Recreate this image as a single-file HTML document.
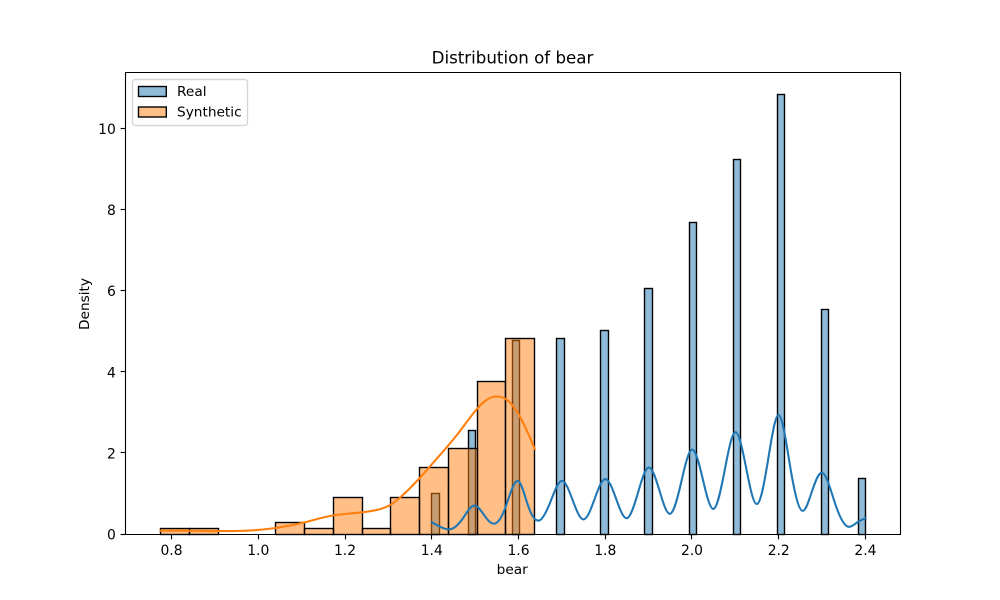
<!DOCTYPE html>
<html lang="en">
<head>
<meta charset="utf-8">
<title>Distribution of bear</title>
<style>
html,body{margin:0;padding:0;background:#fff;}
svg{display:block;}
text{font-family:"DejaVu Sans","Liberation Sans",sans-serif;fill:#000;}
</style>
</head>
<body>
<svg id="chart" xmlns="http://www.w3.org/2000/svg" width="1000" height="600" viewBox="0 0 1000 600">
  <rect x="0" y="0" width="1000" height="600" fill="#ffffff"/>
  <g id="real-bars"></g>
  <g id="synthetic-bars"></g>
  <g id="lines"></g>
  <g id="axes"></g>
  <text x="512.5" y="63.7" font-size="16.67" text-anchor="middle">Distribution of bear</text>
  <text x="512.2" y="574" font-size="13.7" text-anchor="middle">bear</text>
  <text transform="translate(89,304) rotate(-90)" font-size="13.7" text-anchor="middle">Density</text>
  <g>
    <rect x="132.5" y="79.5" width="115" height="46" rx="2.8" ry="2.8" fill="#ffffff" fill-opacity="0.8" stroke="#cccccc" stroke-opacity="0.8" stroke-width="1.39"/>
    <rect x="138.5" y="86.5" width="27.8" height="10" fill="#1f77b4" fill-opacity="0.5" stroke="#000000" stroke-width="1.39"/>
    <text x="177" y="96" font-size="13.7">Real</text>
    <rect x="138.5" y="107" width="27.8" height="10" fill="#ff7f0e" fill-opacity="0.5" stroke="#000000" stroke-width="1.39"/>
    <text x="177" y="116.5" font-size="13.7">Synthetic</text>
  </g>
</svg>
<script>
// Chart data
const xTickLabels = ["0.8","1.0","1.2","1.4","1.6","1.8","2.0","2.2","2.4"];
const yTickLabels = ["0","2","4","6","8","10"];

const realValues = [1.4,1.5,1.6,1.7,1.8,1.9,2.0,2.1,2.2,2.3,2.4];
const realDensity = [1.0,2.56,4.78,4.83,5.02,6.05,7.69,9.24,10.83,5.54,1.38];
const realBinStart = 1.4;
const realBinEnd = 2.4;
const realBinCount = 59;

const syntheticDensity = [0.145,0.145,0,0,0.295,0.145,0.905,0.145,0.905,1.65,2.11,3.76,4.82];
const syntheticBinStart = 0.7745;
const syntheticBinEnd = 1.6375;

const realKdeX = [1.4,1.419,1.442,1.469,1.5,1.523,1.544,1.569,1.6,1.623,1.65,1.675,1.7,1.725,1.75,1.775,1.8,1.825,1.85,1.875,1.9,1.925,1.95,1.975,2.0,2.025,2.05,2.075,2.1,2.125,2.15,2.175,2.2,2.225,2.255,2.275,2.3,2.33,2.36,2.38,2.4];
const realKdeY = [0.29,0.18,0.115,0.345,0.70,0.43,0.255,0.63,1.30,0.67,0.345,0.83,1.31,0.83,0.36,0.85,1.355,0.87,0.39,1.0,1.64,1.07,0.50,1.27,2.08,1.35,0.62,1.55,2.51,1.62,0.74,1.8,2.93,1.75,0.57,1.0,1.51,0.75,0.18,0.28,0.39];

const synKdeX = [0.7745,0.85,0.95,1.04,1.104,1.173,1.24,1.265,1.304,1.327,1.373,1.419,1.458,1.504,1.527,1.55,1.573,1.603,1.6375];
const synKdeY = [0.08,0.08,0.074,0.148,0.28,0.46,0.535,0.575,0.715,0.90,1.39,1.95,2.44,3.08,3.31,3.39,3.31,2.90,2.10];

// Axis functions
const plotLeft = 125, plotRight = 900, plotTop = 72, plotBottom = 534;
const xMin = 0.6927, xMax = 2.4796, yMin = 0, yMax = 11.39;
function xScale(v){ return plotLeft + (v - xMin) / (xMax - xMin) * (plotRight - plotLeft); }
function yScale(v){ return plotBottom - (v - yMin) / (yMax - yMin) * (plotBottom - plotTop); }
function snap(p){ return Math.floor(p) + 0.5; }

const NS = "http://www.w3.org/2000/svg";
function make(tag, parent, attrs){
  const el = document.createElementNS(NS, tag);
  for (const k in attrs) el.setAttribute(k, attrs[k]);
  parent.appendChild(el);
  return el;
}

function barAttrs(lo, hi, density, color){
  const x0 = snap(xScale(lo)), x1 = snap(xScale(hi));
  const y0 = snap(yScale(density)), y1 = snap(yScale(0));
  return {x:x0, y:y0, width:x1-x0, height:Math.max(0,y1-y0), fill:color, "fill-opacity":0.5, stroke:"#000000", "stroke-width":1.39};
}

// Real histogram bars
const realGroup = document.getElementById("real-bars");
const realWidth = (realBinEnd - realBinStart) / realBinCount;
realValues.forEach(function(v, i){
  const k = Math.min(realBinCount - 1, Math.floor((v - realBinStart) / realWidth + 1e-9));
  const el = make("rect", realGroup, barAttrs(realBinStart + k * realWidth, realBinStart + (k + 1) * realWidth, realDensity[i], "#1f77b4"));
  
  
});

// Synthetic histogram bars
const synGroup = document.getElementById("synthetic-bars");
const synWidth = (syntheticBinEnd - syntheticBinStart) / syntheticDensity.length;
syntheticDensity.forEach(function(d, i){
  const el = make("rect", synGroup, barAttrs(syntheticBinStart + i * synWidth, syntheticBinStart + (i + 1) * synWidth, d, "#ff7f0e"));
  
  
});

// Natural cubic spline through the data points, emitted as Bezier segments
function splinePath(xs, ys){
  const px = xs.map(xScale), py = ys.map(yScale), n = px.length;
  const h = [], a = new Array(n).fill(0), b = new Array(n).fill(1), c = new Array(n).fill(0), r = new Array(n).fill(0);
  for (let i = 0; i < n - 1; i++) h.push(px[i+1] - px[i]);
  for (let i = 1; i < n - 1; i++){
    a[i] = h[i-1];
    b[i] = 2 * (h[i-1] + h[i]);
    c[i] = h[i];
    r[i] = 6 * ((py[i+1]-py[i])/h[i] - (py[i]-py[i-1])/h[i-1]);
  }
  for (let i = 1; i < n; i++){
    const m = a[i] / b[i-1];
    b[i] -= m * c[i-1];
    r[i] -= m * r[i-1];
  }
  const m2 = new Array(n).fill(0);
  m2[n-1] = r[n-1] / b[n-1];
  for (let i = n - 2; i >= 0; i--) m2[i] = (r[i] - c[i] * m2[i+1]) / b[i];
  let d = "M" + px[0].toFixed(2) + "," + py[0].toFixed(2);
  for (let i = 0; i < n - 1; i++){
    const s = (py[i+1]-py[i])/h[i];
    const t0 = s - h[i] * (2*m2[i] + m2[i+1]) / 6;
    const t1 = s + h[i] * (m2[i] + 2*m2[i+1]) / 6;
    const g = h[i] / 3;
    d += "C" + (px[i]+g).toFixed(2) + "," + (py[i]+g*t0).toFixed(2) + " " + (px[i+1]-g).toFixed(2) + "," + (py[i+1]-g*t1).toFixed(2) + " " + px[i+1].toFixed(2) + "," + py[i+1].toFixed(2);
  }
  return d;
}

// KDE lines
const lineGroup = document.getElementById("lines");
const realLine = make("path", lineGroup, {d:splinePath(realKdeX, realKdeY), fill:"none", stroke:"#1f77b4", "stroke-width":2.08, "stroke-linecap":"square", "stroke-linejoin":"round"});


const synLine = make("path", lineGroup, {d:splinePath(synKdeX, synKdeY), fill:"none", stroke:"#ff7f0e", "stroke-width":2.08, "stroke-linecap":"square", "stroke-linejoin":"round"});



// Axes: spines, ticks, labels
const axesGroup = document.getElementById("axes");
const spines = [["spine-left",125.5,72,125.5,534.5],["spine-right",900.5,72,900.5,534.5],["spine-top",125,72.5,901,72.5],["spine-bottom",125,534.5,901,534.5]];
spines.forEach(function(s){
  const el = make("line", axesGroup, {x1:s[1], y1:s[2], x2:s[3], y2:s[4], stroke:"#000000", "stroke-width":1.11});
  
  
});
xTickLabels.forEach(function(label){
  const x = snap(xScale(parseFloat(label)));
  const tick = make("line", axesGroup, {x1:x, y1:534.5, x2:x, y2:539.4, stroke:"#000000", "stroke-width":1.11});
  
  
  const text = make("text", axesGroup, {x:xScale(parseFloat(label)), y:555, "font-size":13.89, "text-anchor":"middle"});
  text.textContent = label;
  
  
});
yTickLabels.forEach(function(label){
  const y = snap(yScale(parseFloat(label)));
  const tick = make("line", axesGroup, {x1:120.6, y1:y, x2:125.5, y2:y, stroke:"#000000", "stroke-width":1.11});
  
  
  const text = make("text", axesGroup, {x:115.8, y:yScale(parseFloat(label)) + 5.5, "font-size":13.89, "text-anchor":"end"});
  text.textContent = label;
  
  
});
</script>
</body>
</html>
